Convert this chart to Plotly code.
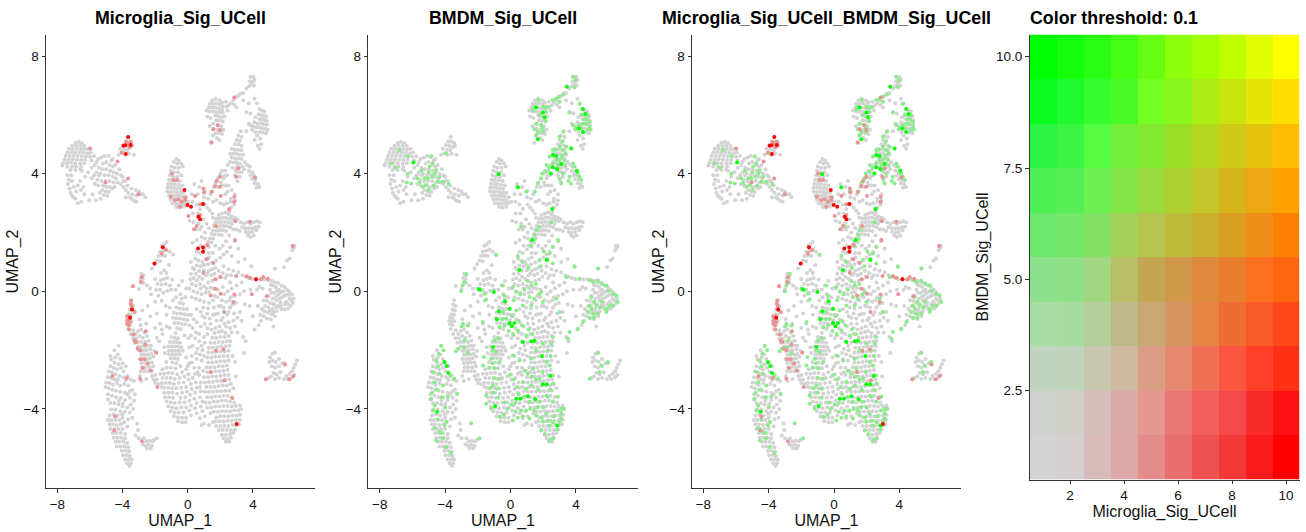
import plotly.graph_objects as go

# ---------- cell positions (UMAP_1, UMAP_2) ----------
nw_blob = [(-6.9,5.05),(-6.7,5.08),(-6.5,5.04),(-7.1,4.95),(-6.85,4.96),(-6.6,4.95),(-6.35,4.94),(-7.3,4.85),(-7.05,4.84),(-6.8,4.85),(-6.55,4.84),(-6.3,4.83),(-6.1,4.85),
(-7.4,4.72),(-7.15,4.73),(-6.9,4.72),(-6.65,4.73),(-6.4,4.72),(-6.15,4.7),(-5.95,4.72),(-7.5,4.6),(-7.25,4.6),(-7.0,4.61),(-6.75,4.6),(-6.5,4.6),(-6.25,4.59),(-6.0,4.58),
(-7.55,4.48),(-7.3,4.48),(-7.05,4.49),(-6.8,4.48),(-6.55,4.47),(-6.3,4.48),(-7.65,4.36),(-7.4,4.36),(-7.15,4.37),(-6.9,4.36),(-6.6,4.35),(-6.35,4.36),(-7.7,4.28),(-7.4,4.24),(-7.1,4.24),(-6.85,4.25),(-6.55,4.24),(-7.2,4.13),(-6.9,4.13),(-6.6,4.15)]
nw_arm = [(-5.9,4.45),(-5.7,4.3),(-5.5,4.5),(-5.3,4.55),(-5.1,4.6),(-4.85,4.6),(-4.7,4.45),(-5.2,4.35),(-5,4.4),(-4.8,4.3),(-4.6,4.25),(-5.45,4.2),(-5.25,4.15),(-5,4.15),(-4.75,4.1),(-4.55,4.05),(-4.35,4.0),
(-5.6,4.05),(-5.35,4),(-5.1,3.95),(-4.85,3.95),(-4.6,3.9),(-4.4,3.85),(-5.9,3.85),(-5.55,3.8),(-5.3,3.75),(-5.05,3.75),(-4.8,3.75),(-4.55,3.7),(-4.3,3.7),(-4.1,3.65),(-5.2,3.6),(-5,3.55),(-4.8,3.55),(-5.25,3.45),(-5.05,3.4),(-4.85,3.38),(-5.15,3.28),(-5.35,3.15),(-5.65,3.1),(-6.05,3.1),(-6.55,3.05),(-6.9,3.15),(-7.0,3.2),(-6.75,3.0),
(-7.4,3.95),(-7.3,3.8),(-7.35,3.65),(-7.25,3.5),(-7.2,3.35),(-7.1,3.75),(-7,3.55),(-6.85,3.4),(-6.75,3.6),(-6.55,3.45),(-6.6,3.75),(-6.4,3.55),(-6.3,3.9),(-6.1,4.05),(-6.5,4.1),(-7.15,3.95),(-7.1,3.25),(-6.35,3.3),(-5.85,3.3),
(-3.95,3.55),(-3.8,3.45),(-3.7,3.6),(-3.65,3.35),(-3.45,3.5),(-3.4,3.3),(-3.2,3.45),(-3.15,3.25),(-3,3.4),(-2.9,3.3),(-2.75,3.3),(-2.6,3.2),(-3.45,3.15),(-3.3,3.08),(-3.15,3.05),(-3.55,3.2),(-3.8,3.2),(-3.85,3.75),(-4,3.9),
(-5.75,4.6),(-5.6,4.4),(-5.9,4.2),(-5.75,3.95),(-5.7,3.65),(-5.45,3.95),(-5.5,3.6),(-5.4,3.35),(-4.95,3.25),(-4.65,3.5),(-4.5,3.55),(-4.6,4.5),(-4.45,4.3),(-4.2,4.15),(-4.1,3.95),(-3.95,3.75)]
nw_tip = [(-3.66,5.25),(-3.8,5.1),(-3.6,5.1),(-3.45,5.05),(-3.95,4.98),(-3.75,4.95),(-3.55,4.9),(-3.4,4.95),(-4.15,4.85),(-3.9,4.82),(-3.7,4.8),(-4.05,4.7),(-3.85,4.65),(-4.25,4.65),(-3.3,4.65),(-3.6,4.68)]
c_cluster = [(-0.7,4.5),(-0.55,4.45),(-0.85,4.4),(-0.65,4.35),(-0.4,4.35),(-1.0,4.25),(-0.8,4.2),(-0.55,4.2),(-0.3,4.25),(-1.05,4.1),(-0.85,4.05),(-0.6,4.05),(-1.1,3.95),(-0.9,3.9),(-0.65,3.9),(-0.4,3.95),(-1.15,3.8),(-0.95,3.78),(-0.7,3.78),(-0.48,3.75),(-1.2,3.65),(-1.0,3.65),(-0.8,3.65),(-0.58,3.62),(-0.35,3.6),(-1.25,3.52),(-1.05,3.52),(-0.85,3.52),(-0.65,3.5),(-0.45,3.48),
(-1.25,3.4),(-1.05,3.38),(-0.85,3.4),(-0.65,3.37),(-0.45,3.35),(-0.25,3.35),(-1.15,3.25),(-0.95,3.25),(-0.75,3.25),(-0.55,3.25),(-0.35,3.22),(-0.1,3.2),(-1.05,3.12),(-0.85,3.12),(-0.65,3.12),(-0.45,3.1),(-0.25,3.1),(-0.95,3.0),(-0.75,2.98),(-0.55,2.98),(-0.35,2.98),(-0.15,3),(-0.7,2.87),(-0.5,2.85),(-0.25,2.88),(0.05,3.05)]
n_column = [(1.5,6.5),(1.7,6.55),(1.95,6.5),(2.1,6.42),(1.35,6.38),(1.55,6.38),(1.75,6.4),(1.95,6.36),(2.15,6.3),(2.35,6.28),(1.3,6.25),(1.5,6.25),(1.7,6.25),(1.9,6.22),(2.1,6.18),(1.35,6.12),(1.55,6.12),(1.75,6.1),(1.95,6.08),(2.15,6.08),(1.2,5.95),(1.7,5.98),(1.9,5.95),(2.1,5.92),(1.75,5.82),(1.95,5.8),(2.15,5.78),(1.85,5.65),(2.05,5.62),(1.6,5.52),(1.85,5.5),(2.05,5.48),(1.7,5.38),(1.9,5.38),(2.1,5.35),(1.8,5.22),(1.45,5.05),(2.5,6.32),(2.65,6.4),(2.8,6.5),(2.95,6.6),(3.1,6.65),(3.25,6.72),(2.85,6.35),(3,6.25),(3.4,6.75),(3.6,6.9),(3.75,6.98),(3.9,7.05),(4.05,7.0),(3.8,7.15),(4.0,7.15),(3.85,7.3),(4.02,7.3),(4.1,7.2),(3.4,6.5),
(1.15,6.15),(1.4,5.9),(2.35,6.45),(2.45,6.15),(2.25,5.95),(1.55,5.7),(1.35,5.62),(2.2,5.5),(1.55,5.3),(1.95,5.15),(3.75,6.4),(4.1,6.55),(3.85,6.05),(4.15,5.92),(4.1,5.75),(3.6,5.45),(4.25,5.3),(4.1,5.15),(4.3,4.95)]
ne_column = [(4.25,6.4),(3.6,6.1),(4.4,6.2),(4.55,6.15),(4.7,6.12),(4.35,6.02),(4.5,6),(4.65,5.98),(4.8,5.95),(4.4,5.85),(4.55,5.85),(4.7,5.83),(4.85,5.8),(4.3,5.7),(4.5,5.72),(4.65,5.68),(4.85,5.67),(3.85,5.65),(4.0,5.62),(4.2,5.58),(4.35,5.58),(4.55,5.55),(4.75,5.53),(4.9,5.5),(3.95,5.5),(4.15,5.42),(4.4,5.42),(4.6,5.4),(4.8,5.38),(4.45,5.2),(4.5,5.0),(4.42,4.85),(3.75,5.7)]
mid_stream = [(3.25,5.45),(3.1,5.3),(3.3,5.25),(3.0,5.15),(3.2,5.12),(2.9,5),(3.1,5),(3.3,4.95),(2.7,4.85),(2.9,4.82),(3.1,4.82),(3.3,4.8),(2.6,4.68),(2.8,4.68),(3,4.68),(3.2,4.65),(3.4,4.65),(2.7,4.55),(2.9,4.52),(3.1,4.52),(3.3,4.5),(2.8,4.38),(3,4.38),(3.2,4.35),(3.35,4.25),(3,4.2),(2.75,4.2),(3.1,4.05),(3.3,4.05),(2.9,3.95),(3.2,3.9),(3.05,3.75),(3.65,4.3),(3.8,4.25),(3.75,4.1),(3.95,4.05),(3.85,3.95),(4.05,3.95),(3.95,3.82),(4.15,3.8),(4.1,3.68),(4.3,3.65),(4.22,3.52),(4.4,3.55),(2,4.0),(2.1,4.1),(1.85,3.85),(1.7,3.7),(1.6,3.55),(1.5,3.4),(2.25,3.92),(2.4,3.95),(1.4,3.3),(2.1,3.6),(2.3,3.3),(2.5,3.6),(2.7,3.45),(2.9,3.3),(1.05,3.42),(1.0,3.2),(0.6,3.3),(1.25,3.15),(2.9,3.1),(2.85,2.95),(2.65,2.85),(2.55,2.7),(1.05,2.95),(1.2,2.85),(1.35,2.75),(1.5,2.65),(0.75,2.8),(0.6,2.65),(1.55,2.5),(0.95,2.45),(0.65,2.3),(0.5,2.1),(0.75,2.1),
(2.95,4.1),(3.05,4.3),(3.15,4.2),(3.5,4.4),(3.45,4.15),(2.6,4.4),(2.45,4.3),(2.3,4.1),(2.2,3.85),(2.05,3.7),(1.85,3.55),(2.3,3.6),(2.45,3.4),(2.65,3.15),(2.4,3),(2.2,2.95),(2.0,3.0),(1.75,3.1),(1.55,3.05),(2.65,3.05),(0.85,3.75),(0.7,3.55),(0.4,3.65),(0.25,3.3),(0.3,3.05),(0.55,2.95),(0.3,2.65),(0.1,2.4),(0.35,2.35),(0.85,2.2),(1.15,2.3),(1.3,2.15),(1.05,2),(0.85,1.85),(1.05,1.8),(0.55,1.75),(0.3,1.65),(0.8,1.55),(0.75,1.3),(0.55,1.35),(1.7,1.55),(1.95,1.45),(2.15,1.55),(2.35,1.7),(1.55,1.3),(1.3,1.3),(2.7,1.2),(3.1,1.0),(3.0,2.1),(3.2,2.05),(2.8,2.1)]
mid_band = [(1.9,2.6),(2.1,2.65),(2.3,2.68),(2.5,2.62),(2.7,2.55),(2.9,2.5),(3.05,2.45),(1.75,2.48),(1.95,2.48),(2.15,2.5),(2.35,2.5),(2.55,2.48),(2.75,2.42),(2.95,2.38),(1.7,2.35),(1.9,2.35),(2.1,2.36),(2.3,2.36),(2.5,2.35),(2.7,2.3),(1.6,2.22),(1.8,2.2),(2,2.22),(2.2,2.22),(2.4,2.22),(2.6,2.18),(1.55,2.08),(1.75,2.06),(1.95,2.08),(2.15,2.08),(2.35,2.05),(1.45,1.95),(1.65,1.93),(1.9,1.93),(2.1,1.92),(1.35,1.8),(1.55,1.8),(1.25,1.68),(1.45,1.66),(1.1,1.55),(1.3,1.52),(1.0,1.42),(2.55,1.9),
(3.25,2.35),(3.45,2.3),(3.65,2.35),(3.85,2.3),(4.05,2.35),(4.25,2.38),(4.42,2.35),(3.35,2.18),(3.55,2.15),(3.75,2.15),(3.95,2.15),(4.15,2.18),(4.35,2.2),(3.55,2.02),(3.75,2),(3.95,2.02),(4.2,2.08),(4.05,1.9),(3.85,1.85),(3.7,1.9)]
north_sparse = [(-1.6,1.55),(-1.45,1.6),(-1.3,1.68),(-1.7,1.35),(-1.5,1.38),(-1.3,1.42),(-1.1,1.35),(-1.8,1.2),(-1.6,1.22),(-1.4,1.2),(-0.9,1.25),(-1.9,1.05),(-1.7,1.02),(-2.05,0.92),(-2.2,0.78),(-1.15,0.9),(0.2,1),(0.45,1.12),(0.65,1.05),(0.9,1),(1.1,1.1),(1.3,1.15),(0.55,0.88),(0.8,0.85),(1,0.9),(1.25,0.92),(1.5,0.98),(1.75,1.05),(2,1.15),(2.2,1.25),(2.4,1.35),(2.6,1.5),(2.9,1.7),(3.1,1.45),(3.5,1.1),(3.9,0.85),(5.35,0.78),(5.9,0.82),(6.1,1.05),(6.25,1.12),(6.44,1.54),(6.5,1.48),(6.4,1.4),(6.55,1.55),
(0.3,0.8),(0.2,0.6),(0.35,0.45),(0.5,0.6),(0.7,0.5),(0.9,0.42),(1.1,0.55),(1.3,0.7),(1.5,0.75),(1.7,0.8),(1.9,0.7),(2.2,0.85),(2.5,0.75),(2.8,0.7),(3.1,0.65),(3.35,0.55),(0.25,0.25),(0.5,0.2),(0.75,0.25),(1.0,0.18),(1.25,0.3),(1.5,0.35),(1.75,0.4),(2.3,0.45),(2.6,0.3),(0.35,0),(0.6,-0.05),(0.85,-0.1),(1.1,-0.05),(1.3,-0.02),(1.6,0.1),(1.85,0.05),(2.15,0.15),(2.45,0),(2.7,0.1),(3,0.2),(3.3,0.3),(0.75,-0.3),(1.0,-0.35),(1.3,-0.4),(1.55,-0.3),(1.8,-0.2),(2.1,-0.3),(2.35,-0.35),(2.65,-0.2),(2.9,-0.15),(3.2,-0.1),(3.45,0),(3.85,0.05),
(0.4,0.75),(0.7,0.7),(1.0,0.72),(1.2,0.6),(1.45,0.55),(1.65,0.6),(1.95,0.5),(2.15,0.62),(2.4,0.55),(2.65,0.55),(0.15,0.4),(0.55,0.38),(0.8,0.1),(1.15,0.1),(1.4,0.12),(1.65,-0.15),(2.0,-0.5),(2.25,-0.1),(2.55,-0.3),(2.75,-0.45),(2.95,-0.4),(0.5,-0.25),(0.25,-0.2),(0.1,0.1),(0.95,-0.55),(1.25,-0.58),(1.6,-0.55),(1.9,-0.5),(2.2,-0.55),(2.5,-0.7),(0.55,-0.6),(0.8,-0.7),(1.05,-0.9),(1.35,-0.92),(1.65,-0.78),(2.05,-0.98),(2.35,-1.2),(2.6,-1.25),(2.25,-1.1),(1.2,-1.25),(0.8,-1.2),(0.55,-1.05),(0.35,-0.95),(0.7,-1.45)]
right_lobe = [(3.55,0.5),(3.75,0.45),(3.95,0.42),(4.2,0.4),(4.45,0.4),(4.7,0.4),(4.95,0.38),(5.15,0.36),(5.35,0.3),(5.55,0.28),(5.75,0.2),(5.95,0.15),(6.1,0.05),(6.25,-0.02),(6.4,-0.12),(6.5,-0.25),(6.45,-0.4),(6.3,-0.5),(6.15,-0.58),(5.95,-0.62),(5.75,-0.6),(5.2,0.2),(5.4,0.15),(5.6,0.05),(5.85,0),(6.05,-0.12),(6.25,-0.25),(5.05,0.05),(5.3,-0.05),(5.55,-0.12),(5.8,-0.2),(6.05,-0.35),(4.95,-0.15),(5.2,-0.25),(5.45,-0.3),(5.7,-0.38),(5.95,-0.45),(4.85,-0.32),(5.05,-0.4),(5.3,-0.45),(5.55,-0.5),(4.75,-0.5),(4.95,-0.55),(5.2,-0.6),(5.45,-0.68),(4.7,-0.68),(4.9,-0.72),(5.15,-0.78),(5.35,-0.85),(4.65,-0.85),(4.85,-0.92),(5.1,-0.95),(4.5,-1.0),(4.35,-1.15),(5.25,-1.2),(4.1,-1.3),
(5.1,0.22),(5.5,0.02),(5.7,-0.05),(5.95,-0.15),(6.2,-0.12),(6.35,-0.3),(6.15,-0.42),(5.65,-0.25),(5.4,-0.18),(5.15,-0.05),(5.2,-0.42),(5.45,-0.55),(5.7,-0.5),(5.05,-0.65),(5.25,-0.72),(4.65,-0.3),(4.55,-0.6),(4.45,-0.8),(4.3,-0.5),(4.0,-0.85),(3.8,-0.5),(4.25,0.05),(4.4,0.15),(4.6,0.1)]
right_small = [(5.35,-2.08),(5.2,-2.12),(5.05,-2.25),(5.0,-2.4),(5.2,-2.35),(5.4,-2.4),(5.6,-2.3),(5.8,-2.45),(5.15,-2.55),(5.35,-2.6),(5.6,-2.55),(5.95,-2.45),(6.7,-2.35),(6.6,-2.48),(6.5,-2.6),(6.4,-2.72),(6.25,-2.8),(6.05,-2.88),(5.25,-2.78),(5.45,-2.82),(5.7,-2.75),(5.1,-2.9),(4.95,-2.95),(5.35,-2.98),(5.6,-2.95),(5.9,-2.98),(6.15,-2.98),(6.4,-2.92),(6.55,-2.85)]
west_column = [(-3.45,-0.3),(-3.5,-0.45),(-3.35,-0.5),(-3.55,-0.62),(-3.4,-0.65),(-3.6,-0.78),(-3.45,-0.8),(-3.7,-0.88),(-3.55,-0.92),(-3.75,-1),(-3.6,-1.02),(-3.45,-1.02),(-3.7,-1.12),(-3.55,-1.15),(-3.65,-1.28),(-3.35,-1.32),(-3.5,-1.45),(-3.2,-1.45),(-3.05,-1.35),(-2.85,-1.3),(-2.65,-1.4),(-3.35,-1.6),(-3.15,-1.6),(-2.95,-1.52),(-2.75,-1.58),(-2.5,-1.52),(-3.25,-1.75),(-3.05,-1.72),(-2.85,-1.72),(-2.6,-1.72),(-2.4,-1.68),(-3.05,-1.88),(-2.85,-1.88),(-2.65,-1.88),(-2.45,-1.85),(-2.25,-1.85),(-2.95,-2.02),(-2.75,-2.02),(-2.55,-2),(-2.3,-1.98),(-2.05,-2.02),(-2.85,-2.16),(-2.65,-2.16),(-2.45,-2.15),(-2.25,-2.13),(-2.95,-2.3),(-2.72,-2.3),(-2.52,-2.3),(-2.32,-2.28),(-2.1,-2.22),(-2.85,-2.44),(-2.62,-2.44),(-2.42,-2.42),(-2.2,-2.42),(-2.8,-2.58),(-2.58,-2.58),(-2.35,-2.58),(-2.12,-2.55),(-2.88,-2.72),(-2.65,-2.72),(-2.42,-2.72),(-2.2,-2.72),(-2.95,-2.88),(-2.2,-2.88),(-2.0,-2.85),(-2.1,-3),(-1.9,-3),(-2.0,-3.12),(-1.8,-3.15),(-2.85,-3.05),(-2.55,-2.98),(-1.6,-3.25)]
west_sparse = [(-2.85,0.6),(-2.72,0.55),(-2.9,0.45),(-2.75,0.42),(-2.85,0.3),(-2.72,0.28),(-3.0,0.08),(-3.35,0.18),(-2.25,-0.1),(-2.5,0.2),(-2.3,0.1),(-2.0,0.42),(-1.65,0.62),(-1.45,0.72),(-1.3,0.62),(-1.25,0.45),(-1.45,0.42),(-1.65,0.38),(-1.85,0.25),(-1.6,0.22),(-1.35,0.25),(-1.1,0.2),(-1.95,0.05),(-1.7,0.05),(-1.5,-0.05),(-1.25,0.02),(-1.02,0.05),(-1.8,-0.15),(-2.0,-0.35),(-1.6,-0.32),(-2.45,-0.5),(-2.8,-0.65),(-1.9,-0.75),(-2.3,-0.85),(-2.95,-0.95),(-1.7,-1.1),(-2.55,-1.1),(-2.9,-1.15),(-2.0,-1.25),(-1.55,-1.45),(-1.75,-1.7),(-1.45,-1.9),(-1.9,-1.58)]
sw_lobe = [(-4.25,-1.85),(-4.5,-2),(-4.3,-2.15),(-4.45,-2.25),(-4.15,-2.3),(-4.7,-2.32),(-4.5,-2.42),(-4.25,-2.48),(-4.75,-2.55),(-4.55,-2.6),(-4.35,-2.65),(-4.1,-2.6),(-3.95,-2.72),(-4.85,-2.72),(-4.65,-2.76),(-4.45,-2.82),(-4.2,-2.88),(-3.95,-2.92),(-3.7,-2.88),(-3.5,-3),(-3.3,-3.05),(-4.9,-2.92),(-4.7,-2.95),(-4.5,-3),(-5.0,-3.1),(-4.8,-3.12),(-4.6,-3.18),(-4.35,-3.12),(-4.15,-3.2),(-3.9,-3.15),(-3.65,-3.2),(-5.05,-3.25),(-4.85,-3.3),(-4.62,-3.35),(-4.4,-3.38),(-4.15,-3.42),(-3.85,-3.45),(-3.4,-3.35),(-3.25,-3.5),(-4.9,-3.5),(-4.65,-3.55),(-4.4,-3.6),(-4.12,-3.62),(-3.85,-3.7),(-3.55,-3.62),(-3.3,-3.72),(-4.9,-3.68),(-4.75,-3.8),(-4.5,-3.8),(-4.25,-3.85),(-4,-3.92),(-3.5,-3.85),(-3.35,-4),(-4.7,-4.02),(-4.45,-4.02),(-4.15,-4.08),(-3.85,-4.1),(-3.55,-4.12),(-4.8,-4.22),(-4.55,-4.18),(-4.3,-4.22),(-4,-4.3),(-4.9,-4.38),(-4.7,-4.38),(-4.45,-4.38),(-4.2,-4.38),(-3.9,-4.45),(-3.1,-4.5),(-4.8,-4.52),(-4.6,-4.52),(-4.35,-4.55),(-4.1,-4.52),(-4.75,-4.68),(-4.5,-4.68),(-4.25,-4.68),(-4,-4.68),(-3.05,-4.72),(-4.6,-4.82),(-4.38,-4.82),(-4.12,-4.82),(-3.85,-4.85),(-4.55,-4.98),(-4.32,-4.98),(-4.08,-4.98),(-3.85,-5),(-4.42,-5.12),(-4.2,-5.12),(-3.95,-5.12),(-3.72,-5.15),(-4.35,-5.28),(-4.12,-5.28),(-3.88,-5.28),(-3.65,-5.3),(-4.05,-5.42),(-3.82,-5.42),(-3.6,-5.45),(-3.98,-5.58),(-3.75,-5.58),(-3.55,-5.6),(-3.85,-5.72),(-3.62,-5.72),(-3.45,-5.72),(-3.72,-5.85),(-3.5,-5.85),(-3.58,-5.93),
(-3.2,-4.9),(-3.0,-5.0),(-2.7,-5.0),(-2.75,-5.2),(-2.55,-5.1),(-2.35,-5.08),(-2.15,-5.1),(-2.6,-5.25),(-2.4,-5.22),(-2.2,-5.25),(-2.5,-5.35),(-2.28,-5.35),(-2.05,-5.05),(-1.9,-5),
(-4.75,-2.2),(-4.0,-2.45),(-3.8,-2.55),(-4.3,-3),(-3.8,-3.02),(-3.7,-3.5),(-3.55,-3.4),(-4.22,-3.72),(-3.98,-3.82),(-3.7,-3.95),(-3.65,-4.35),(-3.7,-4.6),(-3.4,-4.3),(-4.02,-4.18)]
center_body = [(-0.45,-0.1),(-0.38,-0.25),(-0.5,-0.4),(-0.3,-0.42),(-0.7,-0.55),(-0.5,-0.58),(-0.28,-0.6),(-0.05,-0.6),(-0.85,-0.72),(-0.65,-0.75),(-0.42,-0.75),(-0.2,-0.78),(0,-0.8),(-0.9,-0.9),(-0.7,-0.92),(-0.48,-0.92),(-0.25,-0.95),(-0.02,-0.98),(0.2,-0.8),(-0.82,-1.08),(-0.6,-1.08),(-0.38,-1.1),(-0.15,-1.12),(0.1,-1.15),(-0.65,-1.25),(-0.45,-1.28),(0.3,-1.25),(-0.75,-1.42),(0.5,-1.4),
(-1.0,-1.55),(-0.8,-1.58),(-0.6,-1.6),(-1.1,-1.72),(-0.9,-1.72),(-0.7,-1.72),(-0.48,-1.75),(-1.2,-1.88),(-1.0,-1.88),(-0.8,-1.88),(-0.6,-1.88),(-0.4,-1.9),(-1.15,-2.02),(-0.95,-2.02),(-0.75,-2.02),(-0.55,-2.02),(-0.3,-2.02),(-1.15,-2.15),(-0.92,-2.15),(-0.7,-2.15),(-0.48,-2.15),(-1.05,-2.28),(-0.82,-2.28),(-0.6,-2.3),(-1.32,-2.4),(-0.95,-2.42),(-0.7,-2.45),(-1.55,-2.65),(-1.3,-2.6),(-1.05,-2.6),(-0.75,-2.62),(-0.45,-2.55),(-1.7,-2.8),(-1.45,-2.8),(-1.2,-2.78),(-0.95,-2.78),(-0.65,-2.82),(-0.35,-2.75),(-0.1,-2.65),(-1.55,-2.95),(-1.3,-2.95),(-1.05,-2.95),(-0.8,-2.98),(-0.5,-2.95),(-0.2,-2.9),(0.05,-2.82),
(-1.6,-3.12),(-1.35,-3.12),(-1.1,-3.12),(-0.85,-3.15),(-0.55,-3.12),(-0.25,-3.1),(0.05,-3),(0.3,-2.95),(-1.45,-3.28),(-1.2,-3.28),(-0.95,-3.3),(-0.7,-3.3),(-0.4,-3.28),(-0.1,-3.25),(0.2,-3.15),(0.5,-3.1),(-1.45,-3.45),(-1.2,-3.45),(-0.95,-3.45),(-0.65,-3.48),(-0.35,-3.45),(-0.05,-3.42),(0.25,-3.32),(0.55,-3.28),(-1.4,-3.6),(-1.15,-3.6),(-0.9,-3.62),(-0.45,-3.62),(-0.15,-3.6),(0.15,-3.52),(0.45,-3.45),(0.8,-3.4),(-1.3,-3.75),(-1.05,-3.78),(-0.8,-3.8),(-0.5,-3.78),(-0.2,-3.78),(0.1,-3.72),(0.4,-3.65),(0.75,-3.6),(-1.2,-3.92),(-0.95,-3.95),(-0.7,-3.98),(-0.4,-3.95),(-0.1,-3.95),(0.2,-3.88),(0.55,-3.8),(0.9,-3.75),(-1.05,-4.08),(-0.8,-4.12),(-0.55,-4.12),(-0.25,-4.12),(0.1,-4.05),(0.45,-3.98),(0.8,-3.92),(-0.85,-4.25),(-0.6,-4.28),(-0.35,-4.3),(-0.1,-4.3),(0.2,-4.22),(0.55,-4.15),(0.9,-4.08),(-0.6,-4.42),(-0.35,-4.45),(-0.12,-4.45),(0.75,-4.32),(1.05,-4.25),(1.0,-4.5),(1.3,-4.55),(1.55,-4.45),(1.4,-4.15),(0.85,-4.55),
(0.05,-1.6),(0.1,-1.9),(-0.2,-1.5),(-0.1,-2.25),(0.0,-2.55),(0.25,-2.42),(0.5,-2.1),(0.75,-2.15),(1.0,-2.2),(0.85,-1.85),(1.05,-1.75),(0.45,-2.8),(0.75,-3.25),(0.6,-2.75),(-1.4,-2.1),(-1.6,-1.3),(-1.3,-1.2),(-1.1,-1.25),(-1.3,-0.8),(-1.1,-0.55),(-1.35,-0.5),(-0.9,-0.3),(-0.7,-0.2),(-0.75,0.05),(-0.55,0.2),(-0.35,0.35),(-0.1,0.1),(-0.15,-0.2),(-0.95,0.4)]
se_body = [(1.0,-1.55),(1.2,-1.45),(1.45,-1.3),(1.7,-1.25),(1.95,-1.2),(1.65,-1.42),(1.9,-1.38),(2.1,-1.35),(2.3,-1.42),(1.5,-1.58),(1.75,-1.58),(2.0,-1.55),(2.25,-1.55),(2.5,-1.52),(1.4,-1.75),(1.65,-1.75),(1.9,-1.72),(2.15,-1.72),(2.4,-1.7),(2.6,-1.7),(1.3,-1.92),(1.55,-1.92),(1.8,-1.9),(2.05,-1.88),(2.3,-1.88),(2.55,-1.85),(1.25,-2.08),(1.5,-2.08),(1.75,-2.06),(2,-2.05),(2.25,-2.05),(2.5,-2.02),(1.2,-2.25),(1.45,-2.25),(1.7,-2.22),(1.95,-2.22),(2.2,-2.2),(2.45,-2.2),(1.25,-2.42),(1.5,-2.42),(1.75,-2.4),(2,-2.38),(2.25,-2.38),(2.5,-2.35),(1.15,-2.58),(1.4,-2.58),(1.65,-2.58),(1.9,-2.55),(2.15,-2.55),(2.4,-2.52),(0.95,-2.7),(1.2,-2.75),(1.45,-2.75),(1.7,-2.72),(1.95,-2.72),(2.2,-2.7),(2.45,-2.68),(0.7,-2.85),(1,-2.92),(1.25,-2.92),(1.5,-2.9),(1.75,-2.9),(2,-2.88),(2.25,-2.85),(2.5,-2.85),(0.8,-3.1),(1.05,-3.1),(1.3,-3.08),(1.55,-3.08),(1.8,-3.05),(2.05,-3.05),(2.3,-3.02),(2.55,-3),(1.15,-3.25),(1.4,-3.25),(1.65,-3.25),(1.9,-3.22),(2.15,-3.2),(2.4,-3.2),(2.65,-3.15),(1.05,-3.42),(1.3,-3.42),(1.55,-3.42),(1.8,-3.4),(2.05,-3.4),(2.3,-3.38),(2.55,-3.38),(1.2,-3.6),(1.45,-3.6),(1.7,-3.58),(1.95,-3.58),(2.2,-3.55),(2.45,-3.55),(2.7,-3.6),(1.1,-3.78),(1.35,-3.78),(1.6,-3.75),(1.85,-3.75),(2.1,-3.72),(2.35,-3.72),(2.6,-3.75),(2.85,-3.78),(1.2,-3.95),(1.45,-3.95),(1.7,-3.92),(1.95,-3.92),(2.2,-3.9),(2.45,-3.9),(2.7,-3.92),(2.95,-3.9),(3.2,-3.88),(1.6,-4.1),(1.85,-4.1),(2.1,-4.08),(2.35,-4.08),(2.6,-4.08),(2.85,-4.05),(3.1,-4.05),(3.28,-4),(1.75,-4.28),(2,-4.25),(2.25,-4.25),(2.5,-4.25),(2.75,-4.22),(3,-4.22),(3.22,-4.2),(1.7,-4.42),(1.95,-4.42),(2.2,-4.42),(2.45,-4.4),(2.7,-4.4),(2.95,-4.38),(3.2,-4.38),(1.75,-4.58),(2,-4.58),(2.25,-4.58),(2.5,-4.58),(2.75,-4.55),(3,-4.55),(3.15,-4.52),(1.9,-4.72),(2.15,-4.72),(2.4,-4.72),(2.65,-4.72),(2.9,-4.7),(2.1,-4.88),(2.35,-4.88),(2.6,-4.85),(2.8,-4.82),(2.2,-5),(2.45,-5.02),(2.65,-4.98),(2.35,-5.12),(2.55,-5.12),
(0.2,-1.5),(0.45,-1.6),(0.7,-1.7),(0.3,-1.85),(0.6,-1.95),(0.9,-2.0),(0.25,-2.2),(0.55,-2.3),(0.85,-2.35),(0.1,-2.45),(0.4,-2.6),(0.7,-2.6),(2.7,-1.4),(2.9,-1.2),(3.05,-1.4),(3.3,-1.0),(3.05,-0.9),(2.85,-0.75),(3.2,-0.7),(3.5,-0.45),(2.6,-0.55),(2.4,-0.8),(2.15,-0.9),(1.85,-0.75),(1.55,-0.8),(1.2,-0.75),(0.9,-0.85),(1.05,-1.1),(1.4,-1.1),(1.75,-1.0),(2.5,-1.05),(2.8,-1.0),(3.4,-1.55),(3.55,-1.7),(3.45,-2.1),(2.9,-2.4),(2.95,-2.9),(2.75,-2.2),(2.8,-3.3)]
cell_groups = [nw_blob, nw_arm, nw_tip, c_cluster, n_column, ne_column, mid_stream, mid_band, north_sparse, right_lobe, right_small, west_column, west_sparse, sw_lobe, center_body, se_body]

microglia_high = [(-3.66,5.25),(-3.84,4.97),(-3.95,4.95),(-3.5,4.98),(-3.8,4.67),(-0.2,3.45),(0.2,2.88),(-0.02,2.94),(0.94,2.97),(0.65,2.54),(0.76,2.45),(0.94,1.49),(0.63,1.46),(0.94,1.35),(-1.53,1.5),(-2.04,0.95),(4.19,0.41),(-3.42,-0.62),(-3.54,-0.9),(3.0,-4.51)]
microglia_low = [(-5.99,4.86),(-4.31,4.42),(-3.66,3.84),(-5.05,3.7),(-3.03,3.3),(-4.05,4.72),(-3.78,5.09),(-3.64,5.02),(-3.5,5.09),(-3.58,4.9),(-0.98,4.01),(-0.88,3.79),(-1.04,3.22),(-0.78,3.1),(-0.57,3.13),(-0.37,3.05),(-0.47,2.88),(-0.16,3.2),(-0.16,3.11),(-0.67,3.79),(0.96,3.5),(1,3.36),(0.45,3.24),(0.76,2.96),(1.47,3.39),(1.68,3.58),(1.78,3.75),(1.98,3.9),(1.98,3.56),(2.02,3.24),(2.86,3.22),(2.86,3.05),(2.54,2.79),(0.76,2.6),(0.04,2.56),(0.55,2.22),(0.39,2.11),(2.92,2.39),(3.82,2.37),(1.72,2.22),(2.9,1.75),(1.84,5.65),(1.57,5.51),(1.98,5.49),(1.45,5.07),(2.86,6.59),(3.11,4.18),(2.97,3.9),(4.13,3.87),(-1.35,1.41),(-1.6,1.29),(1.2,1.58),(1.17,1.09),(6.44,1.54),
(1.57,0.96),(0.96,0.63),(1.68,0.41),(2.02,0.49),(2.97,0.52),(3.62,0.51),(3.82,0.46),(4.64,0.49),(4.5,0.41),(4.91,0.43),(1.7,0.09),(2.02,-0.08),(1.41,-0.14),(3.93,-0.1),(4.85,-0.17),(2.86,-0.11),(2.8,-0.36),(2.23,-0.7),(-2.82,0.49),(-2.88,0.32),(-3.37,0.17),(-3.48,-0.31),(-3.5,-0.42),(-3.44,-0.51),(-3.25,-0.7),(-3.72,-0.85),(-3.6,-0.85),(-3.68,-0.98),(-3.55,-1.05),(-3.72,-1.1),(-3.62,-1.15),(-3.6,-1.3),(-3.33,-1.47),(-3.27,-1.67),(-3.17,-1.72),(-2.58,-1.36),(-2.62,-1.81),(-3.07,-1.95),(-2.92,-2.0),(-1.94,-2.09),(-2.88,-2.31),(-2.66,-2.31),(-2.45,-2.46),(-2.76,-2.61),(-2.27,-2.69),(-2.92,-2.97),(-3.74,-2.95),(-4.62,-2.88),(-4.46,-4.26),(-4.52,-4.73),(-2.82,-5.1),(-1.86,-3.25),(1.74,-2.02),(2.19,-1.98),(1.41,-2.74),(2.25,-3.03),(2.74,-3.63),(5.97,-2.49),(6.48,-2.88),(6.24,-2.99),(4.79,-2.99)]
bmdm_high = [(-5.94,4.38),(-0.73,3.98),(0.45,3.54),(2.55,2.8),(1.31,1.75),(3.45,6.96),(1.57,6.25),(1.98,6.08),(2.08,5.92),(1.67,5.17),(4.43,6.2),(4.57,6.03),(4.18,5.54),(4.43,5.42),(2.59,4.64),(2.8,4.6),(3.1,4.33),(2.59,4.22),(2.84,4.16),(2.47,4.01),(3.71,4.86),(4.06,4.1),(2.22,1.07),(0.55,0.73),(-0.33,-0.34),(-0.06,-0.59),(-0.71,-0.68),(-0.84,-0.95),(-0.06,-1.08),(0.24,-1.08),(0.08,-1.19),(0.76,-1.72),(1.27,-1.7),(1.47,-1.68),(-1.08,-1.89),(1.92,-2.2),(-4.04,-2.4),(-3.9,-2.54),(-3.8,-2.78),(2.43,-2.88),(1.98,-3.16),(2.22,-3.16),(1.06,-3.57),(0.61,-3.65),(0.35,-3.65),(1.51,-3.67),(-0.94,-3.9),(-4.49,-4.1),(2.86,-4.56),(-1.02,-0.02),(-1.9,0.07)]
bmdm_low = [(-7.3,4.35),(-6.8,4.81),(-6.29,4.01),(-6.08,3.67),(-5.57,3.7),(-5.06,3.84),(-4.76,4.35),(-4.55,4.13),(-4.65,4.01),(-5.16,3.62),(-5.37,3.56),(-4.35,3.9),(-4.14,3.73),(-3.78,3.65),(-3.94,4.69),(-4.96,4.24),(-4.45,3.73),(-4.86,4.58),
(1.47,6.28),(1.71,6.51),(1.98,6.28),(2.29,6.26),(2.59,6.51),(2.8,6.56),(3,6.45),(3.24,6.7),(3.92,6.94),(3.98,7.19),(3.82,7.3),(1.37,6.17),(1.78,6),(1.88,5.66),(1.67,5.43),(1.47,5.51),(1.98,5.43),(1.57,5.32),(2.18,6.11),(2.96,6.62),
(3.61,6.08),(4.22,6.37),(4.33,6),(4.73,6),(4.84,5.77),(4.84,5.6),(3.82,5.66),(3.98,5.54),(4.33,5.54),(4.73,5.49),(4.63,5.69),(4.88,5.51),(4.53,5.85),
(3,5.26),(3.24,5.43),(3.16,5.09),(3,4.92),(2.59,4.81),(2.39,4.58),(3.41,4.92),(3.2,4.81),(3.3,4.47),(3,4.47),(2.9,4.13),(3.2,4.01),(3.61,3.9),(3,3.84),(2.18,4.07),(1.94,4.01),(1.88,3.84),(1.67,3.67),(1.47,3.39),(2.8,4.47),(2.59,4.35),(3.82,4.35),(3.92,4.24),(4.12,4.01),(4.22,3.9),(4.33,3.79),(3.71,3.67),(3.1,3.67),
(0.65,2.2),(1.57,2.09),(2.49,2.34),(1.47,1.92),(2.9,1.75),(2.59,1.52),(2.39,1.29),(1.78,1.07),(2.59,0.95),(3.92,0.84),(5.35,0.78),(-0.88,1.24),(0.96,3.39),
(-2.82,0.32),(-2.92,0.2),(-2.71,0.6),(-3.02,0),(-1.8,0.03),(-1.59,-0.08),(-2,0.09),(-1.49,-0.28),(-0.47,0.2),(-0.37,-0.14),(0.14,0.15),(0.35,-0.02),(1.27,0.2),(1.16,-0.19),(1.88,-0.02),(1.98,-0.36),(1.27,-0.48),(0.76,-0.48),(0.35,-0.65),(-0.47,-0.7),(-0.27,-0.93),(-0.37,-1.16),(0.45,-1.33),(0.96,-1.5),(-0.67,-1.21),(-0.98,-1.67),(-0.88,-2.06),(-1.18,-2.29),(-1.63,-2.23),(-1.69,-2.52),(-0.67,-2.4),(0.14,-2.18),(0.55,-2.35),(1.27,-2.29),(1.37,-2.63),(2.29,-2.01),(2.49,-1.78),(2.59,-1.55),(1.98,-1.78),(1.57,-2.01),(2.39,-2.52),(2.59,-2.86),(1.78,-2.97),(2.59,-3.14),(1.27,-3.2),(0.76,-3.08),(-0.67,-2.97),(-0.78,-3.31),(-1.08,-3.2),(-1.49,-3.54),(-1.49,-3.82),(-1.18,-3.99),(-0.67,-4.27),(0.14,-4.39),(0.65,-4.05),(1.16,-3.76),(1.78,-3.76),(2.29,-3.59),(2.9,-3.59),(0.96,-3.31),(1.16,-4.33),(1.57,-4.22),(1.98,-4.44),(2.18,-4.16),(2.59,-3.76),(3.1,-3.99),(3.1,-4.33),(3.24,-3.99),(3,-4.44),(2.39,-4.56),(1.88,-4.73),(2.39,-5.07),(2.59,-5.01),(3.1,-4.16),
(4.94,-0.19),(4.84,-0.48),(4.73,-0.7),(5.04,-0.76),(5.35,-0.76),(5.24,-0.48),(5.86,-0.59),(6.27,-0.48),(6.47,-0.14),(6.27,-0.08),(6.57,-0.36),(5.86,-0.7),(4.22,0.43),(5.04,0.32),(5.35,0.37),(4.43,-1.04),(3.61,-1.38),(3.51,-1.61),(4.12,-1.27),(3,-0.7),(3.41,0.49),(2.8,-0.25),(5.86,0.2),
(5.35,-2.09),(4.84,-2.97),(5.55,-2.52),(5.96,-2.4),(5.45,-2.74),
(-4.24,-1.86),(-4.39,-2.12),(-4.1,-2),(-4.55,-2.35),(-4.76,-2.74),(-4.35,-2.8),(-3.43,-2.97),(-3.63,-2.86),(-4.86,-3.65),(-4.65,-3.88),(-4.76,-4.05),(-3.84,-3.59),(-4.14,-3.2),(-3.29,-3.48),(-3.94,-4.44),(-4.35,-4.78),(-4.55,-5.07),(-2.41,-4.49),(-1.9,-5.01),(-4.04,-4.56),(-4.24,-4.82),
(-2.92,-1.1),(-2.61,-1.16),(-2.82,-1.67),(-3.33,-2.04),(-1.69,-1.04),
(-3.0,-1.2),(-2.85,-1.9),(-2.6,-2.1),(-3.2,-1.95),(0.2,-0.3),(0.6,-0.1),(0.85,0.05),(1.05,0.35),(1.55,0.25),(1.45,-0.25),(1.75,-0.1),(0.1,-0.85),(0.5,-1.0),(0.7,-1.15),(1.1,-1.3),(1.35,-1.45),(0.15,-1.45),(-0.1,-1.35),(-0.5,-0.95),(-0.75,-1.6),(-1.05,-2.02),(-1.3,-2.6),(-1.1,-2.45),(-0.95,-2.62),(-1.0,-2.95),(-1.25,-3.3),(-1.05,-3.45),(-0.75,-3.62),(-0.35,-3.78),(-0.2,-4.0),(0.05,-3.85),(0.3,-3.8),(0.5,-3.5),(0.85,-3.6),(0.4,-3.25),(0.2,-3.0),(-0.05,-2.85),(0.85,-2.7),(1.05,-2.8),(1.3,-2.9),(1.55,-3.0),(1.95,-2.75),(2.2,-2.4),(2.45,-2.2),(2.2,-3.55),(2.0,-3.95),(1.65,-3.95),(1.45,-4.05),(1.2,-4.0),(0.95,-4.05),(0.75,-4.25),(0.45,-4.3),(0.3,-4.1),(-0.4,-4.2),(1.9,-4.3),(2.3,-4.4),(2.65,-4.25),(2.85,-4.7),(2.6,-4.45),(2.1,-4.85),(2.9,-4.05),(2.45,-3.35),(1.7,-3.35),
(-6.3,4.6),(-7,4.2),(-5.7,3.85),(-5.45,4.1),(-5.0,4.05),(-4.8,3.9),(-5.25,3.85),(-4.7,3.6),(-5,3.45),(-6.35,3.7),
(1.6,5.7),(2.15,5.8),(1.95,5.55),(2.2,6.25),(4.45,5.7),(4.65,5.85),(4.2,5.65),(3.35,4.7),(3.15,4.6),(2.75,4.82),(2.9,4.3),(3.35,4.3),(3.55,3.75),(2.2,4.3),(2.35,4.2),(1.75,2.2),(1.45,1.75),(1.25,1.55),(2.05,1.35),(2.25,1.1),(1.85,0.85),(1.1,0.8),(0.75,1.0),(0.45,1.2),
(5.1,-0.35),(4.95,-0.6),(5.5,-0.55),(5.1,-0.9),(4.85,-0.9),(5.55,-0.35),(6.05,-0.5),(6.0,0.02),(5.6,0.25),(4.85,0.38),
(-4.45,-2.55),(-4.65,-3.1),(-4.5,-3.35),(-4.8,-3.45),(-4.2,-3.6),(-4.0,-3.95),(-4.45,-4.35),(-4.65,-4.65),(-4.15,-5),(-3.95,-5.3),(-3.65,-5.5)]

heat_x_ticks = [2, 4, 6, 8, 10]
heat_y_ticks = [2.5, 5.0, 7.5, 10.0]
heat_levels = list(range(1, 11))
# bottom row first
heat_colors = [
 ["#D3D3D3","#D6CFCF","#D9BABA","#DDA8A8","#E28C8C","#E96F6F","#EF5151","#F33838","#FA1C1C","#FF0000"],
 ["#CFD1CC","#D1CFC9","#D3BEBA","#DBA9A6","#E39890","#EC7575","#F05F5C","#F54848","#FA2A2A","#FF1010"],
 ["#BFD5BF","#C0D4BB","#C8C8AF","#CFB9A0","#D99D83","#E48870","#EF7055","#FB5540","#FF4028","#FF3015"],
 ["#A5DDA5","#A8DBA0","#B5CF9A","#BEB88A","#C9A875","#D69460","#E58445","#F06C35","#FA5825","#FF4818"],
 ["#8CE28C","#90E08A","#A2D680","#B7BE66","#C4A552","#CF984A","#DD8A3D","#E87E2E","#FD7020","#FF6610"],
 ["#6BE86B","#74E66A","#84E166","#A2D058","#B5C44C","#BDBB3A","#CBAE2C","#DA9E20","#EE8D18","#FF8000"],
 ["#4DF052","#57EE58","#6FF052","#82E446","#9BDA3C","#ADD030","#C3C52A","#D6B41C","#EBA811","#FF9F00"],
 ["#2CF445","#3CF540","#55FC3F","#72EE38","#84E830","#99DE25","#B5D81E","#D0C918","#E5C210","#FFBC00"],
 ["#0AFC1F","#20FA30","#35FC2C","#48FA28","#76FF22","#88F51C","#ACEE14","#C8E50E","#E5E508","#FFDE00"],
 ["#00FF00","#14FF0A","#28FF14","#44FF14","#66FF14","#8CFF0A","#A4FF05","#BFFF00","#DFFF00","#FFFF00"],
]
umap_ticks_x = [-8, -4, 0, 4]
umap_ticks_y = [-4, 0, 4, 8]
panel_titles = ["Microglia_Sig_UCell", "BMDM_Sig_UCell", "Microglia_Sig_UCell_BMDM_Sig_UCell"]

# ---------- styles ----------
W, H = 1306, 532
FONT = "Liberation Sans, Arial, sans-serif"
GREY, RED, RED_L, GREEN, GREEN_L = "#D3D3D3", "#FF0000", "#E89494", "#00FF00", "#8CEB8C"
PANELS = [(46, 314.5), (368.3, 637.7), (692, 961)]
TOP, BOTTOM = 35, 488

fig = go.Figure()


def add_points(points, color, idx):
    fig.add_trace(go.Scatter(x=[p[0] for p in points], y=[p[1] for p in points], mode="markers",
                             marker=dict(size=4, color=color, line=dict(width=0)),
                             xaxis=f"x{idx}", yaxis=f"y{idx}", showlegend=False, hoverinfo="skip"))


all_cells = [p for g in cell_groups for p in g]
overlays = [
    [(microglia_low, RED_L), (microglia_high, RED)],
    [(bmdm_low, GREEN_L), (bmdm_high, GREEN)],
    [(bmdm_low, GREEN_L), (microglia_low, RED_L), (bmdm_high, GREEN), (microglia_high, RED)],
]
axis_common = dict(showgrid=False, zeroline=False, showline=True, linecolor="#333333", linewidth=1,
                   ticks="outside", ticklen=3.5, tickwidth=1, tickcolor="#333333",
                   tickfont=dict(family=FONT, size=13.5, color="#111111"),
                   title_font=dict(family=FONT, size=16, color="#111111"))
layout = {}
for i, (x0, x1) in enumerate(PANELS, start=1):
    add_points(all_cells, GREY, i)
    for pts, col in overlays[i - 1]:
        add_points(pts, col, i)
    layout[f"xaxis{i}"] = dict(axis_common, domain=[x0 / W, x1 / W], anchor=f"y{i}", range=[-8.7, 7.78],
                               tickvals=umap_ticks_x, title=dict(text="UMAP_1", standoff=3))
    layout[f"yaxis{i}"] = dict(axis_common, domain=[1 - BOTTOM / H, 1 - TOP / H], anchor=f"x{i}", range=[-6.69, 8.72],
                               tickvals=umap_ticks_y, title=dict(text="UMAP_2", standoff=0))

n = len(heat_levels)
flat = [c for row in heat_colors for c in row]
scale = []
for k, c in enumerate(flat):
    scale += [[k / len(flat), c], [(k + 1) / len(flat), c]]
z = [[r * n + c + 0.5 for c in range(n)] for r in range(n)]
fig.add_trace(go.Heatmap(x=heat_levels, y=heat_levels, z=z, zmin=0, zmax=len(flat), colorscale=scale,
                         showscale=False, xaxis="x4", yaxis="y4", hoverinfo="skip", xgap=0, ygap=0))
layout["xaxis4"] = dict(axis_common, domain=[1029.5 / W, 1299.5 / W], anchor="y4", range=[0.5, 10.5],
                        tickvals=heat_x_ticks, title=dict(text="Microglia_Sig_UCell", standoff=3))
layout["yaxis4"] = dict(axis_common, domain=[1 - 479.5 / H, 1 - 34.5 / H], anchor="x4", range=[0.5, 10.5],
                        tickvals=heat_y_ticks, ticktext=["2.5", "5.0", "7.5", "10.0"],
                        title=dict(text="BMDM_Sig_UCell", standoff=3))

anns = []
for (x0, x1), t in zip(PANELS, panel_titles):
    anns.append(dict(text=f"<b>{t}</b>", x=(x0 + x1) / 2 / W, y=1 - 18 / H, xref="paper", yref="paper",
                     xanchor="center", yanchor="middle", showarrow=False,
                     font=dict(family=FONT, size=17.8, color="#000000")))
anns.append(dict(text="<b>Color threshold: 0.1</b>", x=1028 / W, y=1 - 18 / H, xref="paper", yref="paper",
                 xanchor="left", yanchor="middle", showarrow=False, font=dict(family=FONT, size=17.8, color="#000000")))

fig.update_layout(width=W, height=H, margin=dict(l=0, r=0, t=0, b=0), autosize=False,
                  paper_bgcolor="white", plot_bgcolor="white", annotations=anns, **layout)
fig.write_html("out.html", config=dict(displayModeBar=False),
               post_script="document.body.style.margin='0';document.body.style.overflow='hidden';")
